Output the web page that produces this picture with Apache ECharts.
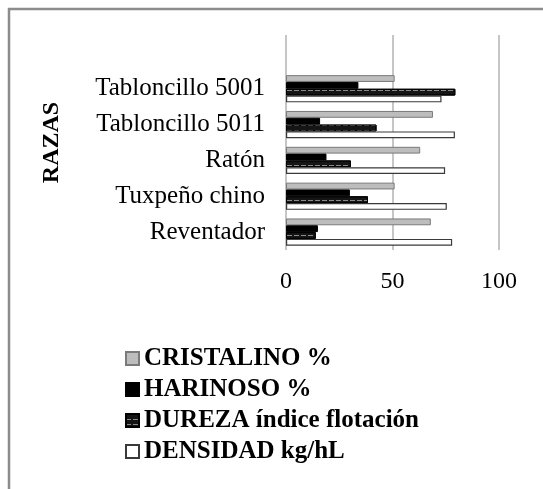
<!DOCTYPE html>
<html>
<head>
<meta charset="utf-8">
<script src="https://cdn.jsdelivr.net/npm/echarts@6/dist/echarts.min.js"></script>
<style>
  html, body { margin: 0; padding: 0; background: #fff; }
  #chart { width: 543px; height: 489px; }
</style>
</head>
<body>
<div id="chart"></div>
<script>
// Maize landraces (bottom to top); the top slot is left empty on purpose
const razas = ['Reventador', 'Tuxpeño chino', 'Ratón', 'Tabloncillo 5011', 'Tabloncillo 5001', ''];

const cristalino = [68, 51, 63, 69, 51, null];
const harinoso   = [15, 30, 19, 16, 34, null];
const dureza     = [14, 38.5, 30.5, 42.5, 79.5, null];
const densidad   = [78, 75.5, 74.7, 79.3, 73, null];

const xTicks = [0, 50, 100];

const serif = '"Liberation Serif", "Times New Roman", serif';

const chart = echarts.init(document.getElementById('chart'), null, { renderer: 'canvas' });

const seriesDefs = [
  { name: 'CRISTALINO %', data: cristalino,
    itemStyle: { color: '#bdbdbd', borderColor: '#7a7a7a', borderWidth: 1 } },
  { name: 'HARINOSO %', data: harinoso,
    itemStyle: { color: '#000000', borderColor: '#000000', borderWidth: 1 } },
  { name: 'DUREZA índice flotación', data: dureza,
    itemStyle: {
      color: '#151515', borderColor: '#000000', borderWidth: 1,
      decal: { symbol: 'rect', symbolSize: 1, color: '#8a8a8a',
               dashArrayX: [[5, 2]], dashArrayY: [1, 4], rotation: 0 }
    } },
  { name: 'DENSIDAD kg/hL', data: densidad,
    itemStyle: { color: '#ffffff', borderColor: '#3a3a3a', borderWidth: 1.2 } }
];

chart.setOption({
  animation: false,
  backgroundColor: '#ffffff',
  graphic: [{
    type: 'rect', silent: true, z: -1,
    shape: { x: 9, y: 9, width: 620, height: 520 },
    style: { fill: 'none', stroke: '#8c8c8c', lineWidth: 2.5 }
  }],
  grid: { left: 286, right: 44, top: 35, bottom: 239, containLabel: false },
  legend: {
    orient: 'vertical',
    left: 120, top: 341,
    itemWidth: 13, itemHeight: 13, itemGap: 6,
    icon: 'rect',
    textStyle: { fontFamily: serif, fontSize: 25, fontWeight: 'bold', color: '#000' },
    data: seriesDefs.map(s => s.name)
  },
  xAxis: {
    type: 'value', min: xTicks[0], max: xTicks[xTicks.length - 1], interval: 50,
    axisLine: { show: false }, axisTick: { show: false },
    splitLine: { show: true, lineStyle: { color: '#c6c6c6', width: 2 } },
    axisLabel: { fontFamily: serif, fontSize: 24, color: '#000', margin: 20 }
  },
  yAxis: {
    type: 'category', data: razas,
    name: 'RAZAS', nameLocation: 'middle', nameRotate: 90, nameGap: 222,
    nameTextStyle: { fontFamily: serif, fontSize: 24, fontWeight: 'bold', color: '#000' },
    axisLine: { show: false }, axisTick: { show: false },
    axisLabel: { fontFamily: serif, fontSize: 25, color: '#000', margin: 21 }
  },
  series: seriesDefs.map(s => ({
    type: 'bar', name: s.name, data: s.data, itemStyle: s.itemStyle,
    barGap: '0%', barCategoryGap: '24%'
  }))
});
</script>
</body>
</html>
